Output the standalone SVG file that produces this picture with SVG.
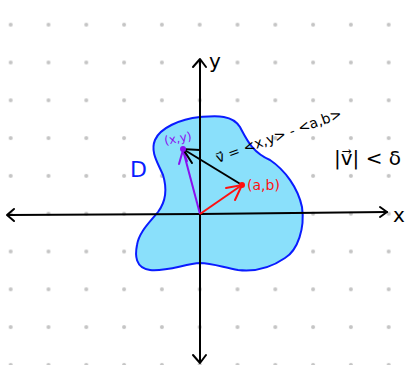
<svg xmlns="http://www.w3.org/2000/svg" width="406" height="365" viewBox="0 0 406 365">
<defs>
<style>
.dot{fill:#c4c4c4}
.ax{stroke:#000;stroke-width:2;fill:none;stroke-linecap:round;stroke-linejoin:round}
.t{font-family:"DejaVu Sans","Liberation Sans",sans-serif}
</style>
<pattern id="dots" x="10.7" y="24.7" width="37.8" height="37.8" patternUnits="userSpaceOnUse">
<circle class="dot" cx="0" cy="0" r="2"/>
<circle class="dot" cx="37.8" cy="0" r="2"/>
<circle class="dot" cx="0" cy="37.8" r="2"/>
<circle class="dot" cx="37.8" cy="37.8" r="2"/>
</pattern>
</defs>
<rect width="406" height="365" fill="#fff"/>
<rect width="406" height="365" fill="url(#dots)"/>
<g id="regionD">
<path d="M155,140 C160,128 180,119 200,117 C215,116 232,114 240,127 C247,140 252,152 270,160 C285,170 298,188 302,207 C305,228 298,250 285,258 C272,267 255,272 238,270 C225,268 212,263 200,263 C185,264 165,272 150,270 C135,268 135,255 137,245 C139,232 150,222 158,212 C167,200 167,188 163,175 C158,163 150,152 155,140 Z" fill="#8ae0fb" stroke="#0a1cff" stroke-width="2"/>
<text class="t" x="130" y="177" font-size="22" fill="#0a1cff">D</text>
</g>
<g id="axes">
<path class="ax" d="M8,215 L200,214 L387,212"/>
<path class="ax" d="M14,209 L7,215 L14,221"/>
<path class="ax" d="M380,207 L387,212 L380,217"/>
<path class="ax" d="M200,362 L200,214 L200,60"/>
<path class="ax" d="M193,67 L200,59 L206,67"/>
<path class="ax" d="M193,355 L200,363 L206,355"/>
<text class="t" x="209" y="68" font-size="20">y</text>
<text class="t" x="393" y="222" font-size="20">x</text>
</g>
<g id="connectors">
<path d="M200,214 L183,150" stroke="#8a10f0" stroke-width="2" fill="none"/>
<path d="M179,164 L183,150 L187,161" stroke="#8a10f0" stroke-width="2" fill="none" stroke-linecap="round"/>
<path d="M200,214 L242,185" stroke="#ff1010" stroke-width="2" fill="none"/>
<path d="M226,188 L242,185 L235,200" stroke="#ff1010" stroke-width="2" fill="none" stroke-linecap="round"/>
<path d="M242,185 L183,149" stroke="#000" stroke-width="2" fill="none"/>
<path d="M200,150 L183,149 L192,163" stroke="#000" stroke-width="2" fill="none" stroke-linecap="round"/>
</g>
<g id="pointXY">
<circle cx="183" cy="149" r="3" fill="#8a10f0"/>
<text class="t" x="164" y="142" font-size="12" fill="#8a10f0" transform="rotate(-10 180 137)">(x,y)</text>
</g>
<g id="pointAB">
<circle cx="242" cy="185" r="3" fill="#ff1010"/>
<text class="t" x="247" y="190" font-size="14" fill="#ff1010">(a,b)</text>
</g>
<g id="labels">
<text class="t" x="218" y="163" font-size="14" transform="rotate(-20 218 163)">v⃗ = &lt;x,y&gt; - &lt;a,b&gt;</text>
<text class="t" x="334" y="165" font-size="20">|v⃗| &lt; δ</text>
</g>
</svg>
